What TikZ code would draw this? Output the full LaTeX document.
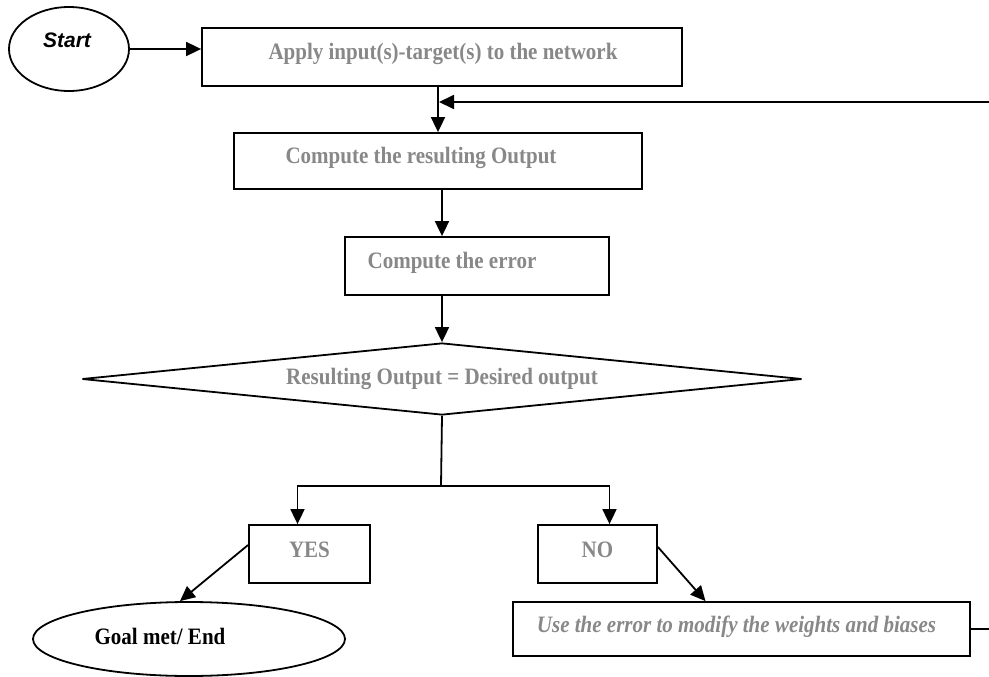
\documentclass[tikz,border=0pt]{standalone}
\usepackage{fontspec}
% condensed, tall serif face for the box labels
\setmainfont{Liberation Serif}[FakeStretch=0.894]
\newfontfamily\arialfont{Liberation Sans}
\usetikzlibrary{arrows.meta,shapes.geometric}

\definecolor{labelgray}{RGB}{136,136,136}

\tikzset{
  flow/.style={line width=1.8pt, draw=black},
  arr/.style={flow, -{Triangle[length=15pt,width=14pt]}},
  stepbox/.style={draw=black, line width=1.8pt, rectangle, inner sep=0pt, fill=white},
  terminal/.style={draw=black, line width=1.8pt, ellipse, inner sep=0pt, fill=white},
  decision/.style={draw=black, line width=1.8pt, diamond, inner sep=0pt, fill=white},
  grayfont/.style={text=labelgray, font=\fontsize{23.5pt}{27pt}\selectfont\bfseries},
  blackfont/.style={text=black, font=\fontsize{23.5pt}{27pt}\selectfont\bfseries},
}

\begin{document}
\begin{tikzpicture}[x=1pt, y=-1pt]
\useasboundingbox (0,0) rectangle (989,677);

% terminals
\node[terminal, minimum width=120pt, minimum height=84pt,
      label={[anchor=center, xshift=-2pt, yshift=9pt, text=black,
              font=\fontsize{21pt}{25pt}\selectfont\arialfont\bfseries\itshape]center:Start}]
      (start) at (69,49) {};
\node[terminal, minimum width=312pt, minimum height=74pt,
      label={[anchor=center, xshift=-29pt, yshift=3pt, blackfont]center:Goal met/ End}]
      (goal) at (189,639) {};

% process steps
\node[stepbox, minimum width=480pt, minimum height=58pt,
      label={[anchor=center, xshift=1pt, yshift=3pt, grayfont]center:Apply input(s)-target(s) to the network}]
      (apply) at (442,57) {};
\node[stepbox, minimum width=408pt, minimum height=56pt,
      label={[anchor=center, xshift=-17pt, yshift=3pt, grayfont]center:Compute the resulting Output}]
      (output) at (438,161) {};
\node[stepbox, minimum width=264pt, minimum height=58pt,
      label={[anchor=center, xshift=-25pt, yshift=3pt, grayfont]center:Compute the error}]
      (error) at (477,266) {};

% decision
\node[decision, minimum width=720pt, minimum height=72pt,
      label={[anchor=center, grayfont]center:Resulting Output = Desired output}]
      (dec) at (442,379) {};

% outcomes
\node[stepbox, minimum width=121pt, minimum height=58pt,
      label={[anchor=center, yshift=4pt, grayfont]center:YES}]
      (yes) at (309.5,554) {};
\node[stepbox, minimum width=119pt, minimum height=58pt,
      label={[anchor=center, yshift=4pt, grayfont]center:NO}]
      (no) at (597.5,554) {};
\node[stepbox, minimum width=457pt, minimum height=54pt,
      label={[anchor=center, xshift=-5pt, yshift=2pt, grayfont,
              font=\fontsize{23.5pt}{27pt}\selectfont\bfseries\itshape]center:Use the error to modify the weights and biases}]
      (update) at (741.5,629) {};

% loop ends running off the right side
\coordinate (loopin) at (989,102);
\coordinate (loopout) at (989,629);
\coordinate (split) at (441,486);

% connectors
\draw[arr] (start.east) -- (start.east -| apply.west);
\draw[arr] (apply.south -| output.north) -- (output.north);
\draw[arr] (loopin) -- ([xshift=1pt]loopin -| output.north);
\draw[arr] (output.south -| dec.north) -- (error.north -| dec.north);
\draw[arr] (error.south -| dec.north) -- (dec.north);
\draw[flow] (dec.south) -- (split);
\draw[arr] (split) -| ([xshift=-12pt]yes.north);
\draw[arr] (split) -| ([xshift=12pt]no.north);
\draw[arr] ([yshift=9pt]yes.west) -- ([xshift=-9pt]goal.north);
\draw[arr] ([yshift=7pt]no.east) -- ([xshift=-36pt]update.north);
\draw[flow] (update.east) -- (loopout);
\end{tikzpicture}
\end{document}
